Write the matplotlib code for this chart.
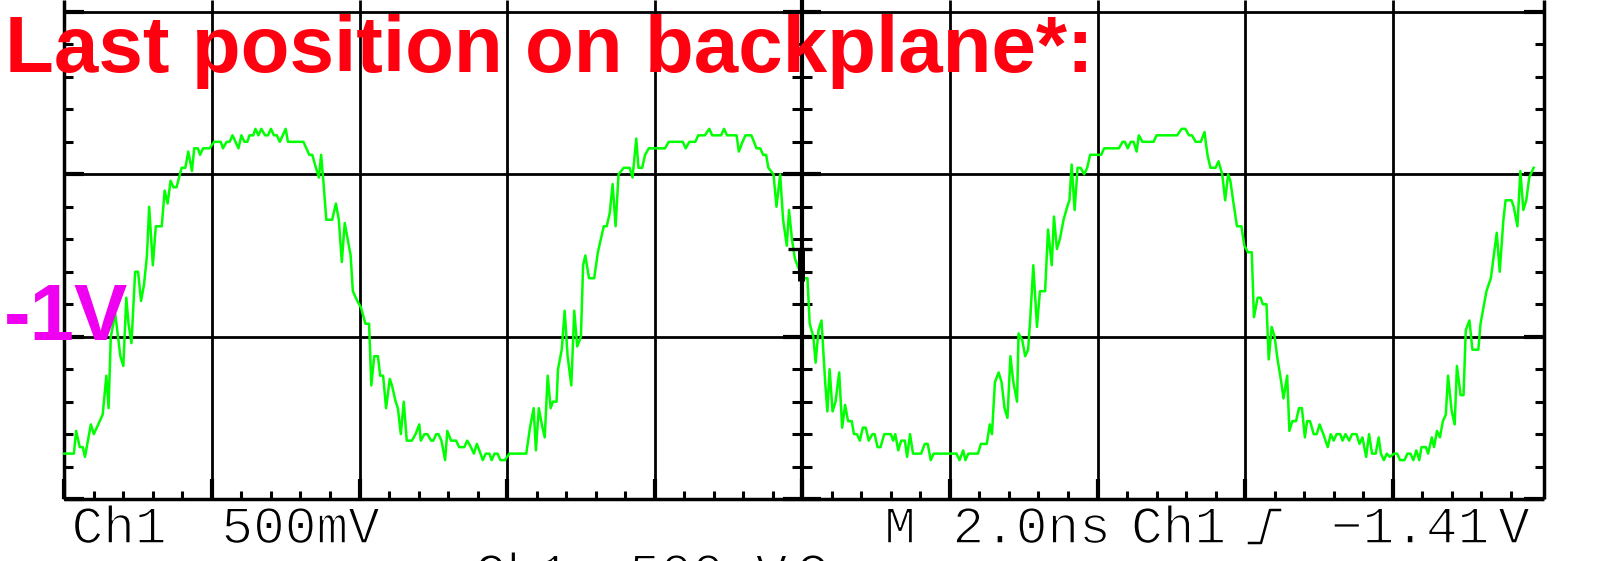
import numpy as np
import matplotlib
matplotlib.use('Agg')
import matplotlib.pyplot as plt
import matplotlib.patheffects as pe

# Scope settings: 2 ns/div, 500 mV/div, 10 x 3 divisions visible
ns_per_div = 2.0
v_per_div = 0.5
x_grid = np.arange(0, 20.1, ns_per_div)
y_grid = [-1.5, -1.0, -0.5, 0.0]

# Ch1 trace (time in ns, level in V)
trace_t = [0.00, 0.13, 0.16, 0.21, 0.25, 0.28, 0.36, 0.40, 0.52, 0.57,
           0.60, 0.63, 0.69, 0.76, 0.80, 0.84, 0.87, 0.91, 0.96, 1.00,
           1.04, 1.08, 1.12, 1.15, 1.20, 1.24, 1.32, 1.36, 1.40, 1.44,
           1.48, 1.52, 1.59, 1.64, 1.68, 1.73, 1.76, 1.81, 1.84, 1.88,
           1.97, 2.03, 2.12, 2.15, 2.20, 2.24, 2.28, 2.32, 2.36, 2.40,
           2.44, 2.48, 2.51, 2.56, 2.59, 2.63, 2.67, 2.72, 2.76, 2.80,
           2.84, 2.88, 2.92, 2.96, 3.00, 3.03, 3.24, 3.28, 3.32, 3.36,
           3.41, 3.45, 3.48, 3.51, 3.55, 3.63, 3.68, 3.72, 3.76, 3.80,
           3.84, 3.88, 3.91, 3.97, 4.02, 4.08, 4.13, 4.16, 4.20, 4.25,
           4.28, 4.32, 4.36, 4.41, 4.44, 4.49, 4.52, 4.56, 4.60, 4.64,
           4.71, 4.76, 4.81,
           4.83, 4.88, 4.92, 4.97, 5.00, 5.04, 5.07, 5.11, 5.16, 5.19,
           5.24, 5.31, 5.35, 5.42, 5.46, 5.51, 5.55, 5.59, 5.64, 5.67,
           5.71, 5.76, 5.79, 5.83, 5.87, 5.91, 5.97, 6.03, 6.26, 6.31,
           6.36, 6.39, 6.43, 6.47, 6.51, 6.55, 6.59, 6.62, 6.67, 6.69,
           6.74, 6.78, 6.82, 6.87, 6.91, 6.95, 7.00, 7.03, 7.06, 7.11,
           7.18, 7.23, 7.27, 7.31, 7.35, 7.39, 7.43, 7.47, 7.51, 7.58,
           7.66, 7.70, 7.75, 7.78, 7.83, 7.87, 7.92, 8.14, 8.19, 8.38,
           8.42, 8.47, 8.55, 8.59, 8.68, 8.74, 8.78, 8.90, 8.94, 8.98,
           9.11, 9.14, 9.19, 9.23, 9.31, 9.38, 9.43, 9.47, 9.51, 9.54,
           9.61, 9.65, 9.70, 9.74, 9.79, 9.82, 9.86, 9.90, 9.95, 10.01,
           10.07, 10.10, 10.15, 10.18, 10.22, 10.26, 10.31, 10.34, 10.37, 10.41,
           10.45, 10.50, 10.54, 10.58, 10.62, 10.67, 10.70, 10.74, 10.78, 10.82,
           10.86, 10.90, 10.95, 10.98, 11.02, 11.06, 11.11, 11.20, 11.23, 11.26,
           11.30, 11.34, 11.39, 11.42, 11.46, 11.50, 11.61, 11.66, 11.70, 11.74,
           11.78, 12.09, 12.13, 12.18, 12.21, 12.25, 12.38, 12.42, 12.50, 12.54,
           12.57, 12.61, 12.66, 12.70, 12.74, 12.78, 12.82, 12.86, 12.91, 12.93,
           12.98, 13.02, 13.06, 13.09, 13.13, 13.18, 13.22, 13.29, 13.33, 13.38,
           13.41, 13.45, 13.49, 13.54, 13.59, 13.62, 13.65, 13.69, 13.73, 13.77,
           13.82, 13.86, 13.90, 14.05, 14.09,
           14.29, 14.34, 14.37, 14.41, 14.45, 14.49, 14.53, 14.56, 14.61, 14.76,
           14.80, 15.08, 15.14, 15.19, 15.24, 15.28, 15.33, 15.40, 15.45, 15.49,
           15.53, 15.60, 15.64, 15.69, 15.73, 15.77, 15.80, 15.85, 15.89, 15.95,
           15.99, 16.04, 16.09, 16.12, 16.17, 16.21, 16.24, 16.29, 16.32, 16.36,
           16.40, 16.44, 16.49, 16.52, 16.57, 16.60, 16.64, 16.69, 16.73, 16.77,
           16.81, 16.84, 16.88, 16.93, 16.97, 17.01, 17.06, 17.12, 17.16, 17.20,
           17.24, 17.29, 17.32, 17.36, 17.41, 17.45, 17.51, 17.55, 17.59, 17.64,
           17.68, 17.72, 17.77, 17.81, 17.84, 17.88, 17.92, 17.96, 18.02, 18.06,
           18.10, 18.16, 18.20, 18.24, 18.28, 18.32, 18.36, 18.39, 18.45, 18.48,
           18.53, 18.56, 18.60, 18.64, 18.68, 18.72, 18.75, 18.80, 18.84, 18.87,
           18.92, 18.96, 18.99, 19.04, 19.08, 19.16, 19.19, 19.23, 19.27, 19.33,
           19.41, 19.45, 19.50, 19.53, 19.61, 19.64, 19.69, 19.73, 19.77, 19.81,
           19.85, 19.91]

trace_v = [-1.36, -1.36, -1.29, -1.34, -1.34, -1.37, -1.27, -1.30, -1.24, -1.12,
           -1.22, -1.00, -0.93, -1.06, -1.09, -0.88, -0.96, -1.02, -0.80, -0.80,
           -0.89, -0.84, -0.75, -0.60, -0.78, -0.66, -0.66, -0.55, -0.59, -0.52,
           -0.54, -0.54, -0.48, -0.48, -0.43, -0.49, -0.42, -0.42, -0.44, -0.42,
           -0.42, -0.40, -0.40, -0.42, -0.40, -0.40, -0.38, -0.40, -0.42, -0.38,
           -0.40, -0.40, -0.38, -0.38, -0.36, -0.38, -0.36, -0.38, -0.38, -0.36,
           -0.38, -0.38, -0.40, -0.38, -0.36, -0.40, -0.40, -0.42, -0.44, -0.44,
           -0.48, -0.51, -0.44, -0.52, -0.64, -0.64, -0.59, -0.64, -0.77, -0.65,
           -0.70, -0.75, -0.86, -0.89, -0.91, -0.96, -0.96, -1.15, -1.06, -1.06,
           -1.12, -1.12, -1.22, -1.13, -1.15, -1.20, -1.22, -1.30, -1.20, -1.32,
           -1.32, -1.30, -1.27,
           -1.32, -1.30, -1.30, -1.32, -1.32, -1.30, -1.30, -1.32, -1.38, -1.29,
           -1.32, -1.32, -1.34, -1.34, -1.32, -1.34, -1.36, -1.33, -1.36, -1.38,
           -1.36, -1.36, -1.38, -1.36, -1.36, -1.38, -1.38, -1.36, -1.36, -1.28,
           -1.22, -1.35, -1.22, -1.27, -1.31, -1.12, -1.22, -1.20, -1.20, -1.10,
           -1.04, -0.92, -1.06, -1.15, -0.92, -1.03, -1.00, -0.78, -0.75, -0.82,
           -0.82, -0.74, -0.70, -0.66, -0.66, -0.62, -0.53, -0.66, -0.50, -0.48,
           -0.48, -0.51, -0.39, -0.48, -0.48, -0.44, -0.42, -0.42, -0.40, -0.40,
           -0.42, -0.40, -0.40, -0.38, -0.38, -0.36, -0.38, -0.38, -0.36, -0.38,
           -0.38, -0.43, -0.40, -0.38, -0.38, -0.42, -0.42, -0.44, -0.44, -0.48,
           -0.50, -0.60, -0.50, -0.64, -0.72, -0.61, -0.70, -0.76, -0.79, -0.82,
           -0.82, -0.96, -1.00, -1.08, -0.98, -0.95, -1.14, -1.23, -1.10, -1.23,
           -1.20, -1.11, -1.28, -1.21, -1.26, -1.26, -1.30, -1.30, -1.32, -1.28,
           -1.28, -1.32, -1.30, -1.30, -1.34, -1.34, -1.30, -1.30, -1.32, -1.30,
           -1.35, -1.32, -1.32, -1.37, -1.30, -1.36, -1.36, -1.33, -1.33, -1.38,
           -1.36, -1.36, -1.38, -1.35, -1.38, -1.36, -1.36, -1.33, -1.33, -1.27,
           -1.30, -1.14, -1.11, -1.14, -1.22, -1.25, -1.06, -1.14, -1.20, -0.99,
           -1.01, -1.06, -1.04, -0.94, -0.78, -0.97, -0.86, -0.86, -0.67, -0.78,
           -0.63, -0.73, -0.70, -0.64, -0.60, -0.58, -0.47, -0.61, -0.48, -0.48,
           -0.50, -0.48, -0.44, -0.44, -0.42,
           -0.42, -0.40, -0.40, -0.42, -0.40, -0.40, -0.43, -0.38, -0.40, -0.40,
           -0.38, -0.38, -0.36, -0.36, -0.38, -0.38, -0.40, -0.40, -0.37, -0.44,
           -0.48, -0.48, -0.46, -0.50, -0.58, -0.50, -0.52, -0.60, -0.66, -0.66,
           -0.72, -0.74, -0.74, -0.94, -0.88, -0.88, -0.90, -0.90, -1.07, -0.97,
           -1.00, -1.07, -1.14, -1.19, -1.12, -1.29, -1.26, -1.26, -1.22, -1.22,
           -1.31, -1.26, -1.26, -1.30, -1.30, -1.27, -1.30, -1.34, -1.30, -1.32,
           -1.30, -1.30, -1.32, -1.30, -1.32, -1.30, -1.30, -1.33, -1.31, -1.37,
           -1.30, -1.36, -1.36, -1.31, -1.36, -1.38, -1.36, -1.37, -1.36, -1.36,
           -1.38, -1.38, -1.36, -1.36, -1.38, -1.35, -1.38, -1.34, -1.34, -1.36,
           -1.31, -1.34, -1.29, -1.31, -1.26, -1.24, -1.12, -1.23, -1.27, -1.09,
           -1.18, -1.18, -0.98, -0.95, -1.04, -1.04, -0.96, -0.91, -0.86, -0.82,
           -0.68, -0.80, -0.64, -0.58, -0.58, -0.60, -0.66, -0.49, -0.61, -0.58,
           -0.51, -0.48]

title_text = 'Last position on backplane*:'
level_text = '-1V'
readout_row1 = ['Ch1', '500mV', 'M', '2.0ns', 'Ch1', '\u22121.41', 'V']
readout_row2 = ['Ch1', '500mV', '\u03a9']

# pixel geometry of the screen (left border, -1V line, px per ns / per V)
x0_px, ym1_px = 64.3, 336.7
px_ns, px_v = 73.8, 324.8
W, H = 1599, 561


def tx(px):
    return (px - x0_px) / px_ns


def vy(py):
    return -1.0 - (py - ym1_px) / px_v


fig = plt.figure(figsize=(W / 100, H / 100), dpi=100)
ax = fig.add_axes([0, 0, 1, 1])
ax.set_xlim(tx(0), tx(W))
ax.set_ylim(vy(H), vy(0))
ax.axis('off')

top = vy(0)
dx = 1 / px_ns
dy = 1 / px_v
right = tx(1544)   # right edge of the graticule sits a little wide on screen

# graticule
for x in x_grid:
    lw = 2.0
    if x == 0:
        lw = 2.5
    if x == 20:
        lw = 2.5
        x = right
    if x == 10:
        lw = 3.0
    ax.plot([x, x], [-1.5, top], color='k', lw=lw, solid_capstyle='butt', zorder=1)
for y in y_grid:
    lw = 2.5 if y == -1.5 else 2.0
    ax.plot([0, right], [y, y], color='k', lw=lw, solid_capstyle='butt', zorder=1)

minor_v = [v for v in np.round(np.arange(-1.4, 0.0, 0.1), 2) if v not in y_grid]
minor_t = [t for t in np.round(np.arange(0.4, 20, 0.4), 2) if t % 2 != 0]

ax.hlines(minor_v, 0, 9 * dx, color='k', lw=2.2, zorder=1)
ax.hlines(minor_v, right - 9 * dx, right, color='k', lw=2.2, zorder=1)
ax.hlines(minor_v, 10 - 10 * dx, 10 + 10 * dx, color='k', lw=2.2, zorder=1)
ax.vlines(minor_t, -1.5, -1.5 + 8 * dy, color='k', lw=2.2, zorder=1)

# heavier stubs where grid lines meet the borders / centre axis
ax.hlines(y_grid, 0, 20 * dx, color='k', lw=3.0, zorder=1)
ax.hlines(y_grid, right - 20 * dx, right, color='k', lw=3.0, zorder=1)
ax.hlines(y_grid, 10 - 19 * dx, 10 + 19 * dx, color='k', lw=3.0, zorder=1)
ax.vlines(x_grid[:-1], -1.5, -1.5 + 20 * dy, color='k', lw=3.0, zorder=1)

# the waveform
ax.plot(trace_t, trace_v, color='#00ff00', lw=1.8, zorder=3)

# level marker on the centre axis
ax.plot([tx(788), tx(812)], [vy(249), vy(249)], color='k', lw=2.4, zorder=4,
        solid_capstyle='butt')
ax.plot([tx(800.5), tx(800.5)], [vy(249), vy(281)], color='k', lw=5,
        zorder=4, solid_capstyle='butt')

# annotations
ax.text(tx(5.4), vy(72), title_text, color='#ff0010', fontsize=57.5,
        fontweight='bold', family='Liberation Sans', ha='left',
        va='baseline', zorder=5)
ax.text(tx(4), vy(340), level_text, color='#f000f0', fontsize=57.5,
        fontweight='bold', family='Liberation Sans', ha='left',
        va='baseline', zorder=5)

# readout along the bottom (thin stroke look: erode glyph edges with white)
thin = [pe.Normal(), pe.Stroke(linewidth=1.1, foreground='white')]
row1_px = [119, 300.5, 900, 1031.5, 1178.5, 1410, 1514]
for s, px in zip(readout_row1, row1_px):
    ax.text(tx(px), vy(543), s, color='k', fontsize=38,
            family='Liberation Mono', ha='center', va='baseline',
            path_effects=thin)
row2_px = [522, 708, 813]
for s, px in zip(readout_row2, row2_px):
    ax.text(tx(px), vy(590), s, color='k', fontsize=38,
            family='Liberation Mono', ha='center', va='baseline',
            path_effects=thin)

# trigger slope glyph
ax.plot([tx(1249), tx(1261), tx(1270), tx(1280)],
        [vy(543), vy(543), vy(510), vy(510)], color='k', lw=1.8)

fig.savefig('out.png', dpi=100, facecolor='white')
